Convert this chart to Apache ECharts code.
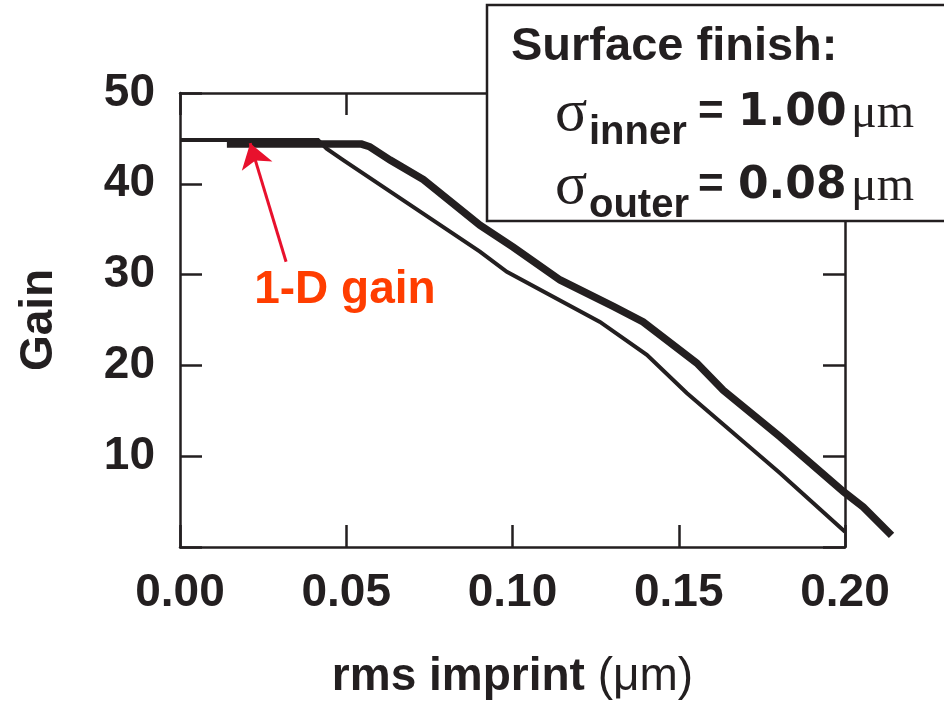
<!DOCTYPE html>
<html>
<head>
<meta charset="utf-8">
<script src="https://cdn.jsdelivr.net/npm/echarts@6/dist/echarts.min.js"></script>
<style>
html,body{margin:0;padding:0;background:#fff;}
#chart{width:944px;height:705px;}
</style>
</head>
<body>
<div id="chart"></div>
<script>
// ---- data ----
const xTicks = [0.00, 0.05, 0.10, 0.15, 0.20];
const yTicks = [10, 20, 30, 40, 50];

// thin curve
const thinX = [0, 0.0415, 0.0441, 0.0491, 0.0902, 0.0983, 0.1263, 0.1404, 0.1524, 0.1805, 0.2];
const thinY = [44.85, 44.85, 43.9, 42.65, 32.6, 30.4, 24.9, 21.3, 17.1, 8.3, 1.9];

// thick curve
const thickX = [0.0141, 0.0546, 0.0571, 0.0632, 0.0732, 0.0902, 0.1002, 0.1143, 0.1303, 0.1393, 0.1554, 0.1634, 0.1805, 0.1995, 0.2055, 0.2140];
const thickY = [44.4, 44.4, 44.1, 42.65, 40.5, 35.5, 33.1, 29.5, 26.6, 24.9, 20.4, 17.4, 12.3, 6.3, 4.6, 1.5];

// annotation: arrow from label to the 1-D gain level
const arrowFrom = [0.0319, 31.5];
const arrowTo = [0.0211, 44.5];
const labelAt = [0.0496, 28.4];
const labelText = '1-D gain';

const xTitle = 'rms imprint ';
const xUnit = '(\u03bcm)';
const yTitle = 'Gain';

// ---- chart ----
const ink = '#231F20';
const sans = '"Liberation Sans", Arial, Helvetica, sans-serif';
const serif = '"Liberation Serif", "Times New Roman", serif';
const chart = echarts.init(document.getElementById('chart'), null, {renderer: 'canvas'});

const zip = (xs, ys) => xs.map((x, i) => [x, ys[i]]);

const xMax = 0.2, xDrawMax = 0.215;
const plotLeft = 180, plotTop = 93, plotW = 665, plotH = 456;

const axisLine = {show: true, onZero: false, lineStyle: {color: ink, width: 2.5}};
const axisTick = {show: true, inside: true, length: 22, lineStyle: {color: ink, width: 2.5}};

chart.setOption({
  animation: false,
  backgroundColor: '#fff',
  grid: [
    {left: plotLeft, top: plotTop, width: plotW, height: plotH, containLabel: false},
    // same scale, extended to the right so the curves can run past the frame
    {left: plotLeft, top: plotTop, width: plotW * xDrawMax / xMax, height: plotH, containLabel: false}
  ],
  xAxis: [{
    gridIndex: 0, type: 'value', min: 0, max: xMax, interval: 0.05, position: 'bottom',
    axisLine, axisTick, splitLine: {show: false},
    axisLabel: {margin: 23, fontSize: 46, fontWeight: 'bold', fontFamily: sans, color: ink,
      formatter: v => v.toFixed(2)},
    name: '{b|' + xTitle + '}{n|' + xUnit + '}', nameLocation: 'middle', nameGap: 107,
    nameTextStyle: {rich: {
      b: {fontSize: 46, fontWeight: 'bold', fontFamily: sans, color: ink},
      n: {fontSize: 46, fontWeight: 'normal', fontFamily: sans, color: ink}
    }}
  }, {
    gridIndex: 0, type: 'value', min: 0, max: xMax, interval: 0.05, position: 'top',
    axisLine, axisTick, axisLabel: {show: false}, splitLine: {show: false}
  }, {
    gridIndex: 1, type: 'value', min: 0, max: xDrawMax, show: false
  }],
  yAxis: [{
    gridIndex: 0, type: 'value', min: 0, max: 50, interval: 10, position: 'left',
    axisLine, axisTick, splitLine: {show: false},
    axisLabel: {margin: 25, fontSize: 46, fontWeight: 'bold', fontFamily: sans, color: ink,
      formatter: v => (yTicks.indexOf(v) >= 0 ? String(v) : '')},
    name: yTitle, nameLocation: 'middle', nameRotate: 90, nameGap: 118,
    nameTextStyle: {fontSize: 46, fontWeight: 'bold', fontFamily: sans, color: ink}
  }, {
    gridIndex: 0, type: 'value', min: 0, max: 50, interval: 10, position: 'right',
    axisLine, axisTick, axisLabel: {show: false}, splitLine: {show: false}
  }, {
    gridIndex: 1, type: 'value', min: 0, max: 50, show: false
  }],
  series: [{
    type: 'line', name: 'thin', xAxisIndex: 2, yAxisIndex: 2,
    data: zip(thinX, thinY), showSymbol: false, symbol: 'none',
    clip: false, lineStyle: {color: ink, width: 4, join: 'miter'}, silent: true,
    markLine: {
      silent: true, symbol: ['none', 'arrow'], symbolSize: [24, 24],
      lineStyle: {color: '#E8112D', width: 3, type: 'solid'},
      label: {show: false},
      data: [[{coord: arrowFrom}, {coord: arrowTo}]]
    },
    markPoint: {
      silent: true, symbol: 'circle', symbolSize: 0,
      label: {show: true, position: 'inside', formatter: labelText, fontSize: 46,
        fontWeight: 'bold', fontFamily: sans, color: '#FF3D00'},
      data: [{coord: labelAt}]
    }
  }, {
    type: 'line', name: 'thick', xAxisIndex: 2, yAxisIndex: 2,
    data: zip(thickX, thickY), showSymbol: false, symbol: 'none',
    clip: false, lineStyle: {color: ink, width: 7.5, join: 'miter'}, silent: true
  }],
  graphic: [
    {type: 'rect', z: 100, shape: {x: 487, y: 5, width: 470, height: 216},
      style: {fill: '#fff', stroke: ink, lineWidth: 2.5}},
    {type: 'text', z: 101, style: {x: 511, y: 47, text: 'Surface finish:', fill: ink,
      font: 'bold 47px ' + sans, textVerticalAlign: 'middle'}},
    // line 2
    {type: 'text', z: 101, style: {x: 555, y: 114, text: '\u03c3', fill: ink,
      font: 'normal 60px ' + serif, textVerticalAlign: 'middle'}},
    {type: 'text', z: 101, style: {x: 589, y: 133, text: 'inner', fill: ink,
      font: 'bold 40px ' + sans, textVerticalAlign: 'middle'}},
    {type: 'text', z: 101, style: {x: 698, y: 113, text: '=', fill: ink,
      font: 'bold 44px ' + sans, textVerticalAlign: 'middle'}},
    {type: 'text', z: 101, style: {x: 738, y: 114, text: '1.00', fill: ink,
      font: 'bold 44px "DejaVu Sans", sans-serif', textVerticalAlign: 'middle'}},
    {type: 'text', z: 101, style: {x: 851, y: 114, text: '\u03bcm', fill: ink,
      font: 'normal 48px ' + serif, textVerticalAlign: 'middle'}},
    // line 3
    {type: 'text', z: 101, style: {x: 555, y: 187, text: '\u03c3', fill: ink,
      font: 'normal 60px ' + serif, textVerticalAlign: 'middle'}},
    {type: 'text', z: 101, style: {x: 589, y: 206, text: 'outer', fill: ink,
      font: 'bold 40px ' + sans, textVerticalAlign: 'middle'}},
    {type: 'text', z: 101, style: {x: 698, y: 186, text: '=', fill: ink,
      font: 'bold 44px ' + sans, textVerticalAlign: 'middle'}},
    {type: 'text', z: 101, style: {x: 738, y: 187, text: '0.08', fill: ink,
      font: 'bold 44px "DejaVu Sans", sans-serif', textVerticalAlign: 'middle'}},
    {type: 'text', z: 101, style: {x: 851, y: 187, text: '\u03bcm', fill: ink,
      font: 'normal 48px ' + serif, textVerticalAlign: 'middle'}}
  ]
});
</script>
</body>
</html>
